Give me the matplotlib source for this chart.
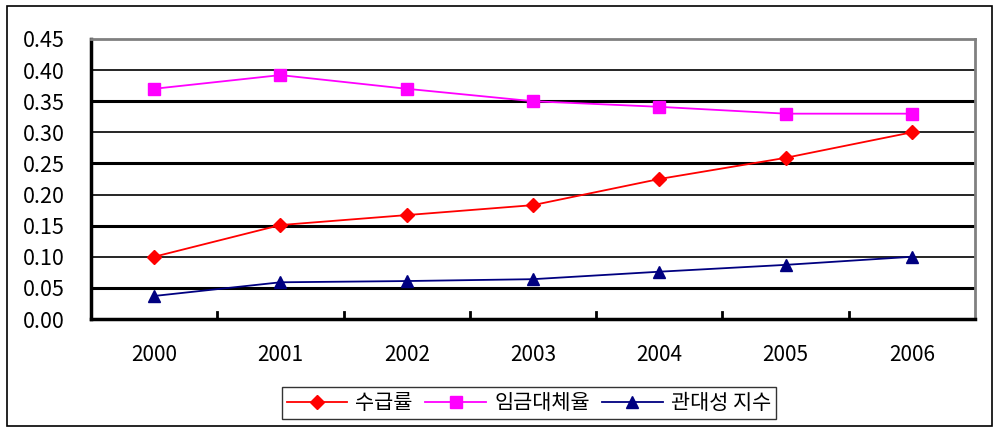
import matplotlib
matplotlib.use("Agg")
import matplotlib.pyplot as plt
from matplotlib.patches import Rectangle

plt.rcParams['font.family'] = ['Noto Sans CJK KR', 'DejaVu Sans']

years = ['2000', '2001', '2002', '2003', '2004', '2005', '2006']
supply = [0.100, 0.151, 0.167, 0.183, 0.225, 0.259, 0.300]       # 수급률
replace = [0.370, 0.392, 0.370, 0.350, 0.341, 0.330, 0.330]      # 임금대체율
generosity = [0.037, 0.059, 0.061, 0.064, 0.076, 0.087, 0.100]   # 관대성 지수
labels = ['수급률', '임금대체율', '관대성 지수']

W, H = 1005, 441
fig = plt.figure(figsize=(W / 100, H / 100), dpi=100)
ax = fig.add_axes([91 / W, 1 - 319 / H, (975 - 91) / W, (319 - 39) / H])

x = list(range(len(years)))
ax.plot(x, supply, color='#ff0000', marker='D', markersize=7, lw=1.3, label=labels[0])
ax.plot(x, replace, color='#ff00ff', marker='s', markersize=9, lw=1.3, label=labels[1])
ax.plot(x, generosity, color='#000080', marker='^', markersize=9, lw=1.3, label=labels[2])

ax.set_xlim(-0.5, len(years) - 0.5)
ax.set_ylim(0, 0.45)

# 가로 눈금선 (굵기가 번갈아 나옴)
yt = [i * 0.05 for i in range(10)]
for i, v in enumerate(yt[1:-1], start=1):
    ax.axhline(v, color='black', lw=2.2 if i % 2 == 1 else 1.2, zorder=0)

ax.set_yticks(yt)
ax.set_yticklabels(['%.2f' % v for v in yt])
ax.set_xticks(x)
ax.set_xticklabels(years)
ax.tick_params(axis='x', length=0, pad=18, labelsize=15)
ax.tick_params(axis='y', length=0, pad=19, labelsize=15.5)

# 카테고리 경계 눈금
for b in range(1, len(years)):
    ax.plot([b - 0.5, b - 0.5], [0, 0.011], color='black', lw=2, clip_on=False)

for s in ['left', 'bottom']:
    ax.spines[s].set_linewidth(2.5)
    ax.spines[s].set_color('black')
for s in ['top', 'right']:
    ax.spines[s].set_linewidth(2)
    ax.spines[s].set_color('#808080')

leg = ax.legend(loc='center', bbox_to_anchor=(529 / W, 1 - 403 / H),
                bbox_transform=fig.transFigure, ncol=3, fontsize=15,
                frameon=True, fancybox=False, handlelength=2.9,
                columnspacing=0.6, handletextpad=0.4, borderpad=0.25)
leg.get_frame().set_edgecolor('black')
leg.get_frame().set_linewidth(1)

fig.patches.append(Rectangle((7 / W, 1 - 426 / H), (992 - 7) / W, (426 - 6) / H,
                             transform=fig.transFigure, fill=False,
                             edgecolor='black', lw=1.2))

fig.savefig('out.png', dpi=100)
